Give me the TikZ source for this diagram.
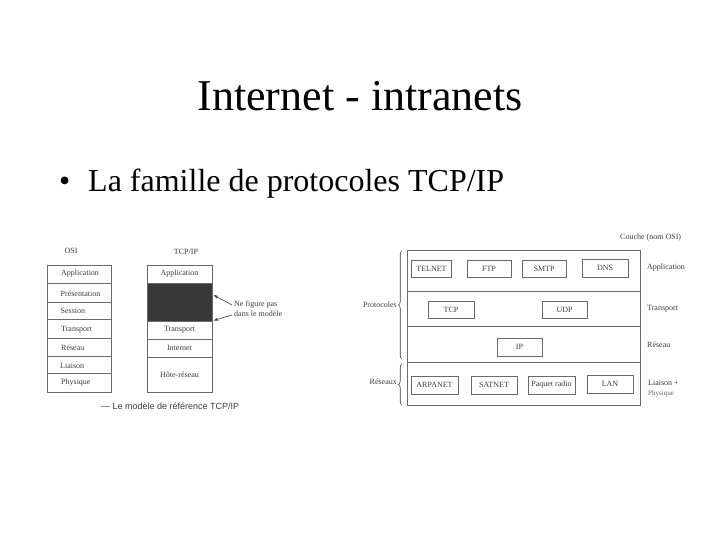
\documentclass[tikz,border=0pt]{standalone}
\usepackage{fontspec}
\setmainfont{Liberation Serif}
\setsansfont{Liberation Sans}
\usetikzlibrary{decorations.pathreplacing,arrows.meta}
\definecolor{ink}{HTML}{3C3C3C}
\definecolor{lineg}{HTML}{6A6A6A}
\definecolor{darkfill}{HTML}{383838}
\tikzset{
  figtext/.style={font=\fontsize{8}{9}\selectfont, text=ink, inner sep=0pt},
  layer/.style={draw=lineg, line width=0.8pt, inner sep=0pt, figtext},
  pbox/.style={draw=lineg, line width=0.9pt, inner sep=0pt, figtext},
  band/.style={draw=lineg, line width=0.8pt, inner sep=0pt},
  note/.style={figtext},
  ptr/.style={draw=ink, line width=0.6pt, -{Stealth[length=5pt,width=3pt]}},
  brc/.style={draw=ink, line width=0.6pt, decorate, decoration={brace, amplitude=3.5pt}}
}
\begin{document}
\begin{tikzpicture}[x=1pt,y=-1pt]
\useasboundingbox (0,0) rectangle (720,540);
% title and bullet
\node[anchor=base, inner sep=0pt, font=\fontsize{44}{48}\selectfont] (title) at (360,111) {Internet - intranets};
\node[anchor=base west, inner sep=0pt, font=\fontsize{32}{36}\selectfont] (bullet) at (59,192) {•};
\node[anchor=base west, inner sep=0pt, font=\fontsize{32}{36}\selectfont] (line1) at (88,192) {La famille de protocoles TCP/IP};

% ---------- left figure: OSI ----------
\node[note] (osilbl) at (71,251) {OSI};
\node[layer, minimum width=64, minimum height=18] (o1) at (79,274) {};
\node[layer, minimum width=64, minimum height=19] (o2) at (79,292.5) {};
\node[layer, minimum width=64, minimum height=17] (o3) at (79,310.5) {};
\node[layer, minimum width=64, minimum height=19] (o4) at (79,328.5) {};
\node[layer, minimum width=64, minimum height=18] (o5) at (79,347) {};
\node[layer, minimum width=64, minimum height=17] (o6) at (79,364.5) {};
\node[layer, minimum width=64, minimum height=19] (o7) at (79,382.5) {};
\node[note, anchor=west] (t1) at (61,274) {Application};
\node[note, anchor=west] (t2) at (60.5,294) {Présentation};
\node[note, anchor=west] (t3) at (60.5,310.5) {Session};
\node[note, anchor=west] (t4) at (61,330) {Transport};
\node[note, anchor=west] (t5) at (61,348) {Réseau};
\node[note, anchor=west] (t6) at (60,366) {Liaison};
\node[note, anchor=west] (t7) at (61,383) {Physique};

% ---------- left figure: TCP/IP ----------
\node[note] (tcplbl) at (186,252) {TCP/IP};
\node[layer, minimum width=65, minimum height=18] (p1) at (179.5,274) {Application};
\node[layer, fill=darkfill, minimum width=65, minimum height=38] (p2) at (179.5,302) {};
\node[layer, minimum width=65, minimum height=18] (p3) at (179.5,330) {Transport};
\node[layer, minimum width=65, minimum height=18] (p4) at (179.5,348) {Internet};
\node[layer, minimum width=65, minimum height=35] (p5) at (179.5,374.5) {Hôte-réseau};
\node[note, anchor=north west, align=left, font=\fontsize{8}{9.5}\selectfont] (nf) at (234,301) {Ne figure pas\\dans le modèle};
\coordinate (a1) at (213.5,295);
\coordinate (a2) at (213.5,320.5);
\draw[ptr] (232,305) -- (a1);
\draw[ptr] (232,315) -- (a2);
\node[anchor=base west, inner sep=0pt, text=ink, font=\sffamily\fontsize{9}{10}\selectfont] (cap) at (101,409) {— Le modèle de référence TCP/IP};

% ---------- right figure ----------
\node[band, minimum width=233, minimum height=41] (b1) at (523.5,270.5) {};
\node[band, minimum width=233, minimum height=35] (b2) at (523.5,309) {};
\node[band, minimum width=233, minimum height=36] (b3) at (523.5,344.5) {};
\node[band, minimum width=233, minimum height=43] (b4) at (523.5,383.5) {};

\node[pbox, minimum width=40, minimum height=17] (telnet) at (431.5,268.5) {TELNET};
\node[pbox, minimum width=44, minimum height=17] (ftp) at (489,268.5) {FTP};
\node[pbox, minimum width=44, minimum height=17] (smtp) at (544,268.5) {SMTP};
\node[pbox, minimum width=46, minimum height=18] (dns) at (605,268) {DNS};
\node[pbox, minimum width=46, minimum height=17] (tcp) at (451,309.5) {TCP};
\node[pbox, minimum width=45, minimum height=17] (udp) at (564.5,309.5) {UDP};
\node[pbox, minimum width=45, minimum height=18] (ip) at (519.5,347) {IP};
\node[pbox, minimum width=47, minimum height=18] (arpanet) at (434.5,385) {ARPANET};
\node[pbox, minimum width=46, minimum height=18] (satnet) at (494,385) {SATNET};
\node[pbox, minimum width=47, minimum height=18] (radio) at (551.5,385) {Paquet radio};
\node[pbox, minimum width=46, minimum height=18] (lan) at (610,384) {LAN};

\node[note, anchor=west] (couche) at (620,238) {Couche (nom OSI)};
\node[note, anchor=west] (lapp) at (647,268) {Application};
\node[note, anchor=west] (ltra) at (647,308.5) {Transport};
\node[note, anchor=west] (lres) at (647,345) {Réseau};
\node[note, anchor=west] (llia) at (648,382.5) {Liaison +};
\node[note, anchor=west, font=\fontsize{7}{8}\selectfont, text=ink!80] (lphy) at (648,393.5) {Physique};

\coordinate (br1a) at (402,359);
\coordinate (br1b) at (402,251);
\coordinate (br2a) at (402,405);
\coordinate (br2b) at (402,364);
\draw[brc] (br1a) -- (br1b);
\draw[brc] (br2a) -- (br2b);
\node[note, anchor=east] (lprot) at (397,305) {Protocoles};
\node[note, anchor=east] (lreseaux) at (397,382) {Réseaux};
\end{tikzpicture}
\end{document}
